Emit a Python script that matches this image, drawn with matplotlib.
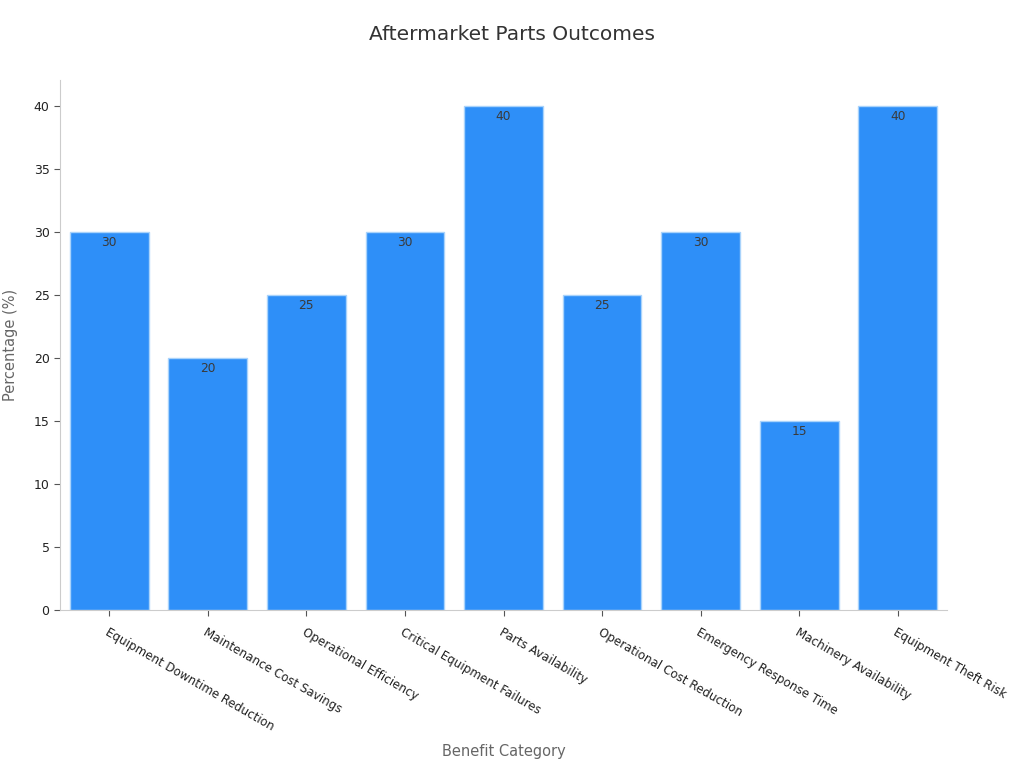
import numpy as np
import matplotlib.pyplot as plt

categories = [
    "Equipment Downtime Reduction",
    "Maintenance Cost Savings",
    "Operational Efficiency",
    "Critical Equipment Failures",
    "Parts Availability",
    "Operational Cost Reduction",
    "Emergency Response Time",
    "Machinery Availability",
    "Equipment Theft Risk",
]
values = [30, 20, 25, 30, 40, 25, 30, 15, 40]

plt.rcParams["font.family"] = ["DejaVu Sans"]

fig = plt.figure(figsize=(10.24, 7.68), dpi=100)
ax = fig.add_axes([0.0586, 0.2057, 0.8662, 0.6903])

x = np.arange(len(categories))
ax.bar(x, values, width=0.8, color="#2E8FF8", edgecolor="#A9D3FB", linewidth=1.0)

for xi, v in zip(x, values):
    ax.text(xi, v - 0.35, str(v), ha="center", va="top", fontsize=8.8, color="#3a3a3a")

ax.set_xlim(-0.5, len(categories) - 0.5)
ax.set_ylim(0, 42.06)
ax.set_yticks(np.arange(0, 41, 5))
ax.set_xticks(x)
ax.set_xticklabels(categories, rotation=-30, ha="left", rotation_mode="anchor",
                   fontsize=8.6, color="#222222")
ax.tick_params(axis="y", labelsize=9, labelcolor="#222222", color="#555555", length=4)
ax.tick_params(axis="x", color="#555555", length=4, pad=7)

for s in ["top", "right"]:
    ax.spines[s].set_visible(False)
for s in ["left", "bottom"]:
    ax.spines[s].set_color("#CCCCCC")

ax.set_xlabel("Benefit Category", fontsize=10.5, color="#666666")
ax.xaxis.set_label_coords(0.5, -0.253)
ax.set_ylabel("Percentage (%)", fontsize=10.5, color="#666666")
ax.yaxis.set_label_coords(-0.047, 0.5)
fig.suptitle("Aftermarket Parts Outcomes", y=0.968, fontsize=14.5, color="#333333")

fig.savefig("out.png", dpi=100)
